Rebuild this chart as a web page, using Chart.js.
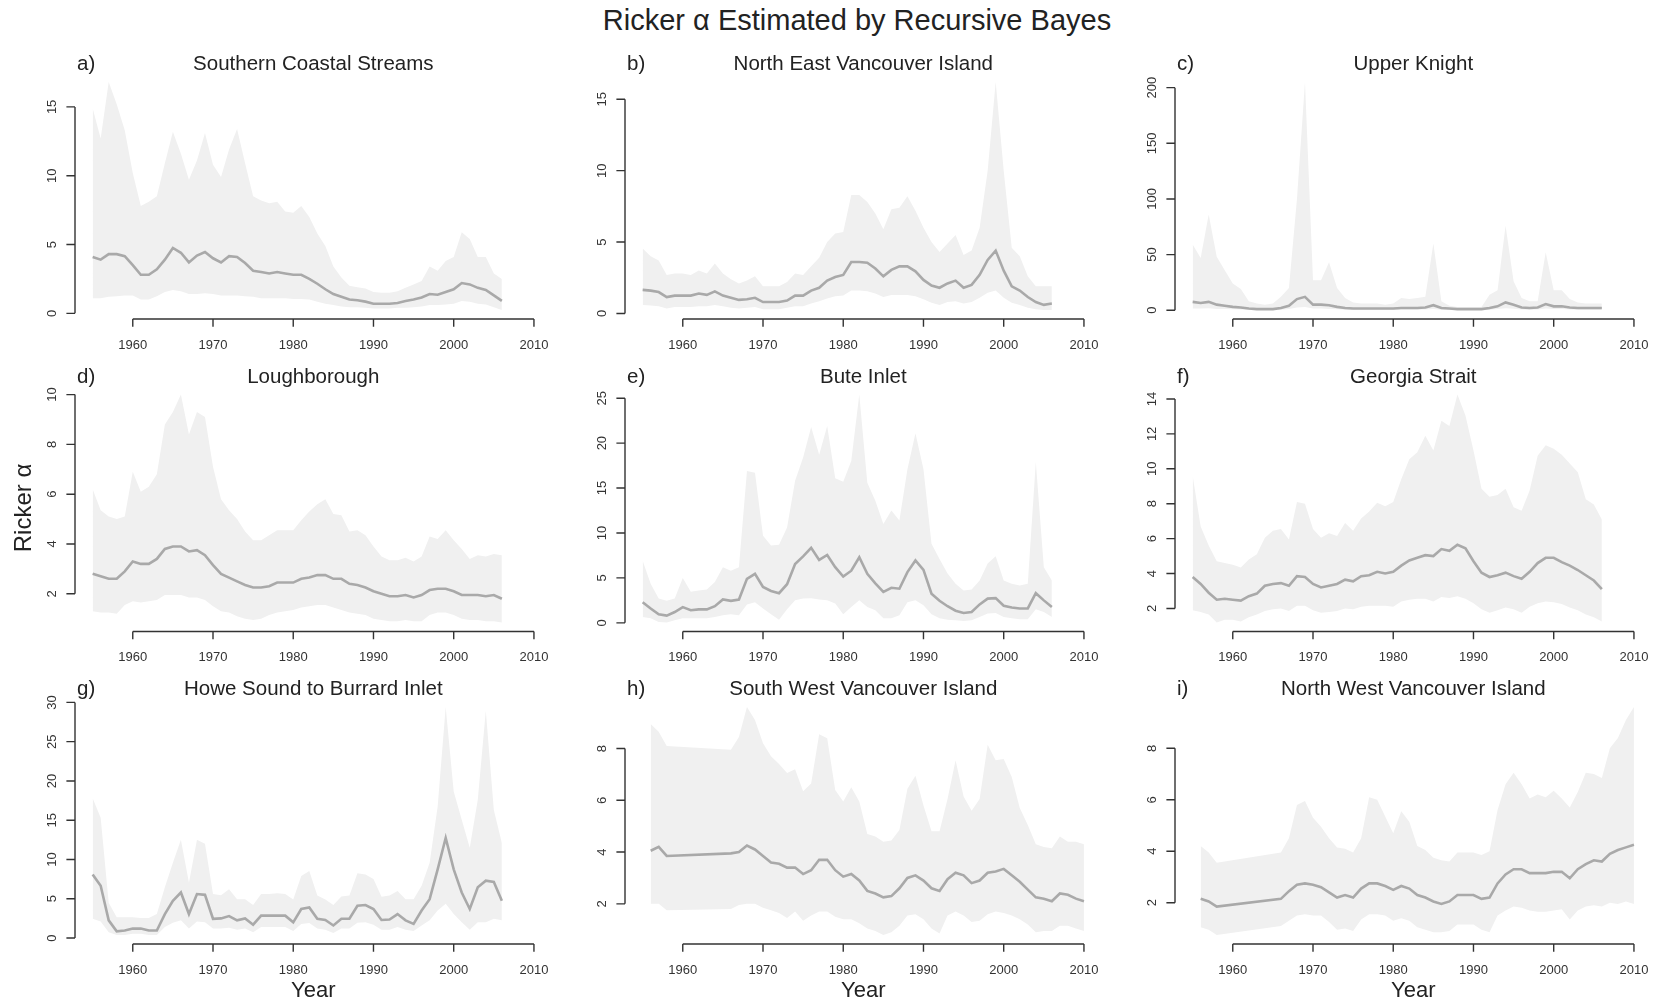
<!DOCTYPE html>
<html>
<head>
<meta charset="utf-8">
<script src="https://cdn.jsdelivr.net/npm/chart.js@4.4.1/dist/chart.umd.min.js"></script>
<style>
  body { margin: 0; background: #fff; width: 1659px; height: 1004px; overflow: hidden; position: relative;
         font-family: "Liberation Sans", Arial, sans-serif; }
  #title { position: absolute; left: 857px; top: 5px; transform: translateX(-50%); white-space: nowrap;
           font-size: 29px; line-height: 30px; color: #222; }
  canvas { position: absolute; }
</style>
</head>
<body>
<div id="title">Ricker α Estimated by Recursive Bayes</div>
<script>
// years with estimates
const yearsMain = [1955,1956,1957,1958,1959,1960,1961,1962,1963,1964,1965,1966,1967,1968,1969,1970,1971,1972,1973,1974,
  1975,1976,1977,1978,1979,1980,1981,1982,1983,1984,1985,1986,1987,1988,1989,1990,1991,1992,1993,1994,
  1995,1996,1997,1998,1999,2000,2001,2002,2003,2004,2005,2006];
const yearsWest = [1956,1957,1958,1966,1967,1968,1969,1970,1971,1972,1973,1974,1975,1976,1977,1978,1979,1980,1981,1982,
  1983,1984,1985,1986,1987,1988,1989,1990,1991,1992,1993,1994,1995,1996,1997,1998,1999,2000,2001,2002,
  2003,2004,2005,2006,2007,2008,2009,2010];
const xTicks = [1960, 1970, 1980, 1990, 2000, 2010];

// a) Southern Coastal Streams
const upA  = [14.9,12.7,16.8,15.2,13.3,10.2,7.8,8.1,8.5,10.9, 13.2,11.6,9.7,11.1,13.1,10.8,9.9,11.9,13.4,10.9,
  8.5,8.2,8.0,8.1,7.4,7.3,7.8,7.0,5.8,4.9, 3.4,2.6,2.0,1.9,1.8,1.55,1.5,1.5,1.6,1.85, 2.1,2.35,3.4,3.1,3.8,4.1,5.9,5.4,4.1,4.1, 2.9,2.5];
const medA = [4.1,3.9,4.3,4.3,4.15,3.5,2.8,2.8,3.2,3.9, 4.75,4.4,3.7,4.2,4.45,4.0,3.7,4.15,4.1,3.65,
  3.1,3.0,2.9,3.0,2.9,2.8,2.8,2.5,2.15,1.75, 1.4,1.2,1.0,0.95,0.85,0.7,0.7,0.7,0.75,0.9, 1.0,1.15,1.4,1.35,1.55,1.75,2.2,2.1,1.85,1.7, 1.3,0.9];
const loA  = [1.1,1.1,1.2,1.25,1.3,1.3,1.0,1.0,1.25,1.55, 1.7,1.6,1.4,1.4,1.45,1.4,1.3,1.3,1.3,1.25,
  1.2,1.1,1.1,1.1,1.1,1.05,1.05,1.0,0.85,0.7, 0.6,0.5,0.45,0.45,0.4,0.35,0.35,0.35,0.4,0.4, 0.45,0.5,0.6,0.6,0.65,0.7,0.9,0.85,0.7,0.65, 0.45,0.25];

// b) North East Vancouver Island
const upB  = [4.55,4.0,3.7,2.7,2.8,2.8,2.7,3.0,2.8,3.5, 2.8,2.4,2.1,2.3,2.6,1.9,1.9,1.9,2.2,2.8,
  2.7,3.3,3.9,5.0,5.6,5.7,8.3,8.3,7.8,7.0, 5.9,7.3,7.4,8.2,7.2,6.0,5.0,4.3,4.9,5.5, 4.1,4.4,6.0,10.0,16.2,10.0,4.6,4.0,2.6,1.9, 1.9,1.9];
const medB = [1.65,1.6,1.5,1.15,1.25,1.25,1.25,1.4,1.3,1.55, 1.25,1.1,0.95,1.0,1.1,0.8,0.8,0.8,0.9,1.25,
  1.25,1.6,1.8,2.3,2.55,2.7,3.6,3.6,3.55,3.15, 2.6,3.05,3.3,3.3,2.95,2.35,1.95,1.8,2.1,2.3, 1.8,2.0,2.7,3.75,4.4,3.0,1.9,1.6,1.15,0.8, 0.6,0.7];
const loB  = [0.6,0.55,0.5,0.35,0.45,0.45,0.45,0.5,0.5,0.6, 0.5,0.4,0.35,0.4,0.45,0.3,0.3,0.3,0.4,0.5,
  0.5,0.7,0.85,1.05,1.2,1.25,1.6,1.6,1.55,1.4, 1.15,1.3,1.3,1.3,1.2,1.0,0.75,0.6,0.8,0.85, 0.7,0.8,1.1,1.45,1.6,1.1,0.75,0.6,0.4,0.3, 0.25,0.25];

// c) Upper Knight
const upC  = [59,47,86,48,36,24,19,8,6,5, 6,12,20,100,205,27,27,43,20,11,
  7,6,6,6,5,6,11,10,11,12, 60,8,4,3,3,3,3,14,18,76, 26,11,8,8,52,18,18,10,7,6, 6,6];
const medC = [7.5,6.5,7.5,5,4,3,2.5,1.5,1,1, 1,2,4,10,12,5,5,4.5,3,2,
  1.5,1.5,1.5,1.5,1.5,1.5,2,2,2,2.5, 4.5,2,1.5,1,1,1,1,2,3.5,7, 5,2.5,2,2.5,5.5,3.5,3.5,2.5,2,2, 2,2];
const loC  = [1.5,1.5,1.8,1.2,1,0.8,0.6,0.4,0.3,0.3, 0.3,0.5,1,2.5,3,1.5,1.5,1.2,0.8,0.5,
  0.4,0.4,0.4,0.4,0.4,0.4,0.6,0.6,0.6,0.7, 1.2,0.5,0.4,0.3,0.3,0.3,0.3,0.5,1,1.8, 1.3,0.7,0.5,0.7,1.5,1,1,0.7,0.5,0.5, 0.5,0.5];

// d) Loughborough
const upD  = [6.2,5.35,5.1,5.0,5.1,6.9,6.1,6.3,6.8,8.8, 9.3,10.0,8.4,9.3,9.1,7.1,5.8,5.35,5.0,4.5,
  4.15,4.15,4.35,4.55,4.55,4.55,4.95,5.3,5.6,5.8, 5.2,5.15,4.5,4.55,4.35,3.9,3.5,3.35,3.35,3.45, 3.3,3.5,4.3,4.2,4.55,4.15,3.8,3.4,3.55,3.5, 3.6,3.55];
const medD = [2.8,2.7,2.6,2.6,2.9,3.3,3.2,3.2,3.4,3.8, 3.9,3.9,3.7,3.75,3.55,3.15,2.8,2.65,2.5,2.35,
  2.25,2.25,2.3,2.45,2.45,2.45,2.6,2.65,2.75,2.75, 2.6,2.6,2.4,2.35,2.25,2.1,2.0,1.9,1.9,1.95, 1.85,1.95,2.15,2.2,2.2,2.1,1.95,1.95,1.95,1.9, 1.95,1.8];
const loD  = [1.3,1.25,1.25,1.2,1.55,1.7,1.65,1.7,1.75,1.95, 1.95,1.95,1.85,1.85,1.75,1.5,1.3,1.25,1.1,1.0,
  0.95,1.0,1.15,1.25,1.3,1.35,1.45,1.5,1.55,1.55, 1.45,1.35,1.25,1.2,1.15,1.0,0.95,0.9,0.9,0.95, 0.9,0.9,1.15,1.25,1.25,1.15,1.0,0.95,0.95,0.9, 0.9,0.85];

// e) Bute Inlet
const upE  = [6.9,4.35,2.7,2.45,2.7,5.0,3.45,3.6,3.7,4.55, 6.2,5.8,6.2,16.9,16.7,9.7,8.6,8.7,10.6,15.8,
  18.4,21.8,18.7,21.9,16.1,15.7,18.0,25.4,15.6,13.6, 11.0,12.5,11.4,17.1,21.1,17.1,8.8,7.1,5.5,4.35, 3.6,3.7,4.7,6.6,7.4,4.7,4.35,4.15,4.35,17.9, 6.2,4.7];
const medE = [2.3,1.6,0.95,0.8,1.2,1.75,1.4,1.5,1.5,1.85, 2.6,2.45,2.6,4.9,5.45,4.0,3.55,3.3,4.3,6.55,
  7.4,8.35,7.0,7.55,6.2,5.15,5.8,7.3,5.45,4.4, 3.45,3.9,3.8,5.65,6.95,5.9,3.25,2.45,1.85,1.35, 1.1,1.2,2.05,2.7,2.75,1.9,1.7,1.6,1.6,3.3, 2.5,1.75];
const loE  = [0.65,0.5,0.1,0.05,0.3,0.5,0.5,0.5,0.5,0.65, 0.85,0.95,0.85,2.05,2.3,1.6,0.95,0.35,1.5,2.5,
  2.7,2.75,2.6,2.5,2.15,0.95,1.75,2.5,1.75,1.4, 0.5,0.5,0.85,2.3,2.5,1.95,0.95,0.5,0.35,0.3, 0.2,0.3,0.65,1.05,1.1,0.65,0.5,0.4,0.4,1.5, 1.2,0.65];

// f) Georgia Strait
const upF  = [9.6,6.7,5.6,4.7,4.6,4.5,4.35,4.8,5.1,6.05, 6.45,6.55,5.95,8.1,8.0,6.55,6.05,6.3,6.15,6.9,
  6.45,7.15,7.55,8.05,7.85,8.1,9.4,10.55,10.95,11.9, 11.05,12.75,12.45,14.25,13.05,11.05,8.85,8.4,8.5,8.85, 7.8,7.6,8.75,10.75,11.35,11.15,10.8,10.3,9.8,8.25, 7.95,7.1];
const medF = [3.8,3.4,2.9,2.5,2.55,2.5,2.45,2.7,2.85,3.3, 3.4,3.45,3.3,3.85,3.8,3.4,3.2,3.3,3.4,3.65,
  3.55,3.85,3.9,4.1,4.0,4.1,4.45,4.75,4.9,5.05, 5.0,5.4,5.3,5.65,5.45,4.7,4.05,3.8,3.9,4.05, 3.85,3.7,4.1,4.6,4.9,4.9,4.65,4.45,4.2,3.9, 3.6,3.1];
const loF  = [1.9,1.8,1.65,1.2,1.35,1.35,1.25,1.5,1.65,1.85, 1.95,2.0,1.85,2.15,2.15,1.9,1.75,1.8,1.85,2.0,
  1.95,2.1,2.15,2.15,2.15,2.1,2.4,2.5,2.55,2.55, 2.4,2.65,2.6,2.7,2.55,2.3,1.95,1.75,1.9,2.05, 1.95,1.75,2.1,2.3,2.4,2.35,2.25,2.05,1.9,1.65, 1.5,1.25];

// g) Howe Sound to Burrard Inlet
const upG  = [17.8,15.3,4.5,2.65,2.65,2.65,2.55,2.55,3.05,6.45, 9.6,12.5,7.05,12.5,12.0,5.6,5.45,6.2,4.95,4.95,
  4.2,5.6,5.6,5.7,5.6,4.9,7.9,8.55,5.4,4.9, 4.2,5.3,5.4,8.25,8.1,7.5,5.25,5.4,6.0,4.95, 4.95,6.65,9.6,16.75,29.4,18.65,15.05,11.5,17.6,28.95, 16.3,12.1];
const medG = [8.1,6.65,2.25,0.85,0.95,1.2,1.2,0.95,0.95,3.05, 4.75,5.8,3.05,5.6,5.5,2.45,2.5,2.8,2.25,2.5,
  1.7,2.85,2.85,2.85,2.85,2.0,3.7,3.9,2.45,2.3, 1.6,2.45,2.45,4.1,4.2,3.7,2.3,2.35,3.05,2.25, 1.8,3.5,4.95,8.75,12.75,8.75,5.8,3.7,6.45,7.3, 7.15,4.75];
const loG  = [2.45,2.1,0.75,0.4,0.4,0.55,0.55,0.4,0.4,1.4, 1.95,2.25,1.2,2.1,2.0,1.2,1.2,1.3,1.05,1.2,
  0.75,1.4,1.4,1.4,1.4,0.9,1.8,1.9,1.2,1.05, 0.65,1.2,1.2,1.95,2.0,1.7,1.05,1.05,1.4,1.05, 0.9,1.6,2.25,3.5,4.35,3.05,2.0,1.05,2.0,2.0, 2.45,2.25];

// h) South West Vancouver Island
const upH  = [8.95,8.65,8.1, 7.95,8.45,9.6,9.1,8.2,7.7,7.4,7.05,7.2,6.35, 6.65,8.55,8.4,6.4,5.95,6.5,5.95,4.7,4.6,4.4,
  4.45,4.85,6.45,6.95,5.8,4.8,4.8,6.05,7.55,6.15, 5.6,6.05,8.15,7.55,7.6,6.9,5.7,5.05,4.3,4.2, 4.15,4.6,4.4,4.4,4.3];
const medH = [4.05,4.2,3.85, 3.95,4.0,4.25,4.1,3.85,3.6,3.55,3.4,3.4,3.15, 3.3,3.7,3.7,3.3,3.05,3.15,2.9,2.5,2.4,2.25,
  2.3,2.6,3.0,3.1,2.9,2.6,2.5,2.95,3.2,3.1, 2.8,2.9,3.2,3.25,3.35,3.1,2.85,2.55,2.25,2.2, 2.1,2.4,2.35,2.2,2.1];
const loH  = [2.0,2.0,1.75, 1.8,1.95,2.0,2.0,1.85,1.75,1.65,1.45,1.7,1.35, 1.55,1.7,1.7,1.5,1.4,1.4,1.25,1.05,0.95,0.8,
  0.9,1.15,1.55,1.6,1.4,1.05,0.85,1.55,1.7,1.55, 1.3,1.35,1.6,1.7,1.65,1.55,1.4,1.2,0.9,0.95, 0.95,1.15,1.15,1.05,0.95];

// i) North West Vancouver Island
const upI  = [4.2,3.95,3.55, 3.95,4.5,5.8,5.95,5.3,4.95,4.5,4.15,4.1,3.95, 4.5,6.1,6.0,5.35,4.7,5.55,5.15,4.2,4.05,3.75,
  3.65,3.6,3.95,3.95,3.95,3.85,4.0,5.6,6.6,7.05, 6.6,6.05,6.2,6.1,6.35,6.05,5.7,6.3,7.05,7.0, 6.85,8.0,8.4,9.1,9.6];
const medI = [2.15,2.05,1.85, 2.15,2.45,2.7,2.75,2.7,2.6,2.4,2.2,2.3,2.2, 2.55,2.75,2.75,2.65,2.5,2.65,2.55,2.3,2.2,2.05,
  1.95,2.05,2.3,2.3,2.3,2.15,2.2,2.75,3.1,3.3, 3.3,3.15,3.15,3.15,3.2,3.2,2.95,3.3,3.5,3.65, 3.6,3.9,4.05,4.15,4.25];
const loI  = [1.05,0.95,0.75, 1.1,1.3,1.5,1.55,1.5,1.5,1.25,0.95,1.0,0.9, 1.35,1.55,1.55,1.5,1.3,1.4,1.3,1.05,0.95,0.85,
  0.85,0.9,1.15,1.15,1.15,0.95,0.85,1.5,1.7,1.85, 1.8,1.7,1.65,1.65,1.7,1.75,1.35,1.7,1.85,1.9, 1.85,2.0,1.95,2.05,1.95];

// y-axis tick labels per panel
const ticksA = [0, 5, 10, 15];
const ticksB = [0, 5, 10, 15];
const ticksC = [0, 50, 100, 150, 200];
const ticksD = [2, 4, 6, 8, 10];
const ticksE = [0, 5, 10, 15, 20, 25];
const ticksF = [2, 4, 6, 8, 10, 12, 14];
const ticksG = [0, 5, 10, 15, 20, 25, 30];
const ticksH = [2, 4, 6, 8];
const ticksI = [2, 4, 6, 8];

const panels = [
  {tag: 'a)', name: 'Southern Coastal Streams',    years: yearsMain, up: upA, med: medA, lo: loA, yTicks: ticksA},
  {tag: 'b)', name: 'North East Vancouver Island', years: yearsMain, up: upB, med: medB, lo: loB, yTicks: ticksB},
  {tag: 'c)', name: 'Upper Knight',                years: yearsMain, up: upC, med: medC, lo: loC, yTicks: ticksC},
  {tag: 'd)', name: 'Loughborough',                years: yearsMain, up: upD, med: medD, lo: loD, yTicks: ticksD, yLab: true},
  {tag: 'e)', name: 'Bute Inlet',                  years: yearsMain, up: upE, med: medE, lo: loE, yTicks: ticksE},
  {tag: 'f)', name: 'Georgia Strait',              years: yearsMain, up: upF, med: medF, lo: loF, yTicks: ticksF},
  {tag: 'g)', name: 'Howe Sound to Burrard Inlet', years: yearsMain, up: upG, med: medG, lo: loG, yTicks: ticksG, xLab: true},
  {tag: 'h)', name: 'South West Vancouver Island', years: yearsWest, up: upH, med: medH, lo: loH, yTicks: ticksH, xLab: true},
  {tag: 'i)', name: 'North West Vancouver Island', years: yearsWest, up: upI, med: medI, lo: loI, yTicks: ticksI, xLab: true},
];

const FONT = '"Liberation Sans", Arial, sans-serif';
const BAND = '#f0f0f0';
const MED = '#a9a9a9';
const INK = '#333';

// base-graphics style axes, titles and labels
const rAxes = {
  id: 'rAxes',
  afterDraw(chart, args, o) {
    const {ctx, chartArea: a, scales: {x, y}} = chart;
    ctx.save();
    ctx.strokeStyle = INK;
    ctx.fillStyle = INK;
    ctx.lineWidth = 1.4;

    // x axis
    const xb = a.bottom;
    ctx.beginPath();
    ctx.moveTo(x.getPixelForValue(xTicks[0]), xb);
    ctx.lineTo(x.getPixelForValue(xTicks[xTicks.length - 1]), xb);
    xTicks.forEach(t => {
      const px = x.getPixelForValue(t);
      ctx.moveTo(px, xb);
      ctx.lineTo(px, xb + 7.7);
    });
    ctx.stroke();
    ctx.font = '13px ' + FONT;
    ctx.textAlign = 'center';
    ctx.textBaseline = 'middle';
    xTicks.forEach(t => ctx.fillText(String(t), x.getPixelForValue(t), xb + 26));

    // y axis
    const yt = o.yTicks;
    const yl = a.left;
    ctx.beginPath();
    ctx.moveTo(yl, y.getPixelForValue(yt[0]));
    ctx.lineTo(yl, y.getPixelForValue(yt[yt.length - 1]));
    yt.forEach(t => {
      const py = y.getPixelForValue(t);
      ctx.moveTo(yl, py);
      ctx.lineTo(yl - 8.6, py);
    });
    ctx.stroke();
    yt.forEach(t => {
      ctx.save();
      ctx.translate(yl - 23, y.getPixelForValue(t));
      ctx.rotate(-Math.PI / 2);
      ctx.fillText(String(t), 0, 0);
      ctx.restore();
    });

    // panel title and letter
    ctx.fillStyle = '#222';
    ctx.font = '20.5px ' + FONT;
    ctx.textBaseline = 'alphabetic';
    ctx.fillText(o.name, (a.left + a.right) / 2, a.top - 3);
    ctx.textAlign = 'left';
    ctx.fillText(o.tag, a.left + 2, a.top - 3);

    if (o.xLab) {
      ctx.textAlign = 'center';
      ctx.textBaseline = 'middle';
      ctx.font = '22px ' + FONT;
      ctx.fillText('Year', (a.left + a.right) / 2, xb + 47);
    }
    if (o.yLab) {
      ctx.save();
      ctx.translate(24, 508 - chart.canvas.offsetTop);
      ctx.rotate(-Math.PI / 2);
      ctx.textAlign = 'center';
      ctx.textBaseline = 'middle';
      ctx.font = '24px ' + FONT;
      ctx.fillText('Ricker α', 0, 0);
      ctx.restore();
    }
    ctx.restore();
  }
};

const pts = (xs, ys) => xs.map((v, i) => ({x: v, y: ys[i]}));

// plot-region geometry (page pixels)
const COL_STEP = 550, ROW_STEP = 312.5;
const PLOT_L = 75, PLOT_W = 476.6, PLOT_T = 73, PLOT_H = 246;
const CANVAS_W = 556;

panels.forEach((p, k) => {
  const r = Math.floor(k / 3), c = k % 3;
  const cv = document.createElement('canvas');
  const top = Math.round(36 + ROW_STEP * r);
  const h = r < 2 ? 330 : 1004 - top;
  cv.width = CANVAS_W;
  cv.height = h;
  cv.style.left = (COL_STEP * c) + 'px';
  cv.style.top = top + 'px';
  cv.style.width = CANVAS_W + 'px';
  cv.style.height = h + 'px';
  document.body.appendChild(cv);

  const padTop = PLOT_T + ROW_STEP * r - top;
  const lo = Math.min(...p.lo), hi = Math.max(...p.up);
  const pad = (hi - lo) * 0.04;

  new Chart(cv, {
    type: 'line',
    data: {
      datasets: [
        // band between upper and lower bound, drawn underneath the median
        {data: pts(p.years, p.up), fill: '+1', backgroundColor: BAND, borderColor: 'rgba(0,0,0,0)', borderWidth: 0, pointRadius: 0, order: 2},
        {data: pts(p.years, p.lo), fill: false, borderColor: 'rgba(0,0,0,0)', borderWidth: 0, pointRadius: 0, order: 1},
        {data: pts(p.years, p.med), fill: false, borderColor: MED, borderWidth: 2.6, pointRadius: 0, order: 0}
      ]
    },
    options: {
      responsive: false,
      animation: false,
      events: [],
      layout: {padding: {left: PLOT_L, right: CANVAS_W - PLOT_L - PLOT_W, top: padTop, bottom: h - padTop - PLOT_H}},
      scales: {
        x: {type: 'linear', min: 1952.8, max: 2012.2, display: false},
        y: {type: 'linear', min: lo - pad, max: hi + pad, display: false}
      },
      plugins: {
        legend: {display: false},
        tooltip: {enabled: false},
        rAxes: {tag: p.tag, name: p.name, yTicks: p.yTicks, xLab: !!p.xLab, yLab: !!p.yLab}
      }
    },
    plugins: [rAxes]
  });
});
</script>
</body>
</html>
